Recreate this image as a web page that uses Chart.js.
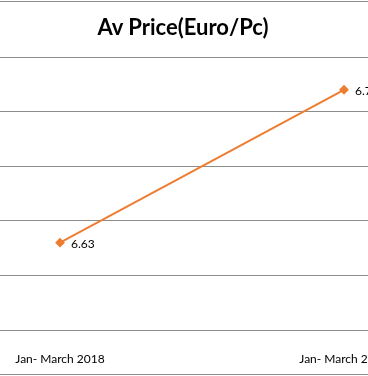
<!DOCTYPE html>
<html>
<head>
<meta charset="utf-8">
<script src="https://cdn.jsdelivr.net/npm/chart.js@4/dist/chart.umd.min.js"></script>
<style>
    html, body { margin: 0; padding: 0; background: #fff; }
    #wrap { position: relative; width: 368px; height: 376px; overflow: hidden; }
    #title { position: absolute; top: 13px; left: 0; width: 366px; text-align: center;
             font: bold 22px Lato, sans-serif; color: #000; z-index: 2; }
    .rule { position: absolute; left: 0; width: 368px; height: 0; border-top: 1px solid #8c8c8c; }
    #box { position: absolute; left: -88px; top: 0; width: 580px; height: 376px; }
</style>
</head>
<body>
<div id="wrap">
    <div class="rule" style="top:1px"></div>
    <div class="rule" style="top:374px"></div>
    <div id="title">Av Price(Euro/Pc)</div>
    <div id="box"><canvas id="chart"></canvas></div>
</div>
<script>
const periods = ['Jan- March 2018', 'Jan- March 2019'];
const avgPrice = [6.63, 6.77];
const yMin = 6.55;
const yMax = 6.80;
const yStep = 0.05;

const valueLabels = {
    id: 'valueLabels',
    afterDatasetsDraw(chart) {
        const ctx = chart.ctx;
        const meta = chart.getDatasetMeta(0);
        ctx.save();
        ctx.font = '12px Lato, sans-serif';
        ctx.fillStyle = '#000';
        ctx.textBaseline = 'middle';
        meta.data.forEach((pt, i) => {
            ctx.fillText(avgPrice[i].toFixed(2), pt.x + 11, pt.y + 1);
        });
        ctx.restore();
    }
};

new Chart(document.getElementById('chart'), {
    type: 'line',
    data: {
        labels: periods,
        datasets: [{
            data: avgPrice,
            borderColor: '#ed7d31',
            backgroundColor: '#ed7d31',
            borderWidth: 2,
            pointStyle: 'rectRot',
            pointRadius: 3.5,
            tension: 0
        }]
    },
    options: {
        responsive: true,
        maintainAspectRatio: false,
        animation: false,
        layout: { padding: { top: 57, left: 0, right: 0, bottom: 0 } },
        plugins: { legend: { display: false }, tooltip: { enabled: false }, title: { display: false } },
        scales: {
            x: {
                offset: true,
                grid: { display: false },
                border: { display: false },
                ticks: { color: '#000', font: { family: 'Lato', size: 12 }, padding: 14, maxRotation: 0 },
                afterFit: s => { s.height = 46; }
            },
            y: {
                min: yMin,
                max: yMax,
                ticks: { stepSize: yStep, display: false },
                grid: { color: '#8c8c8c', drawTicks: false },
                border: { display: false },
                afterFit: s => { s.width = 0; }
            }
        }
    },
    plugins: [valueLabels]
});
</script>
</body>
</html>
